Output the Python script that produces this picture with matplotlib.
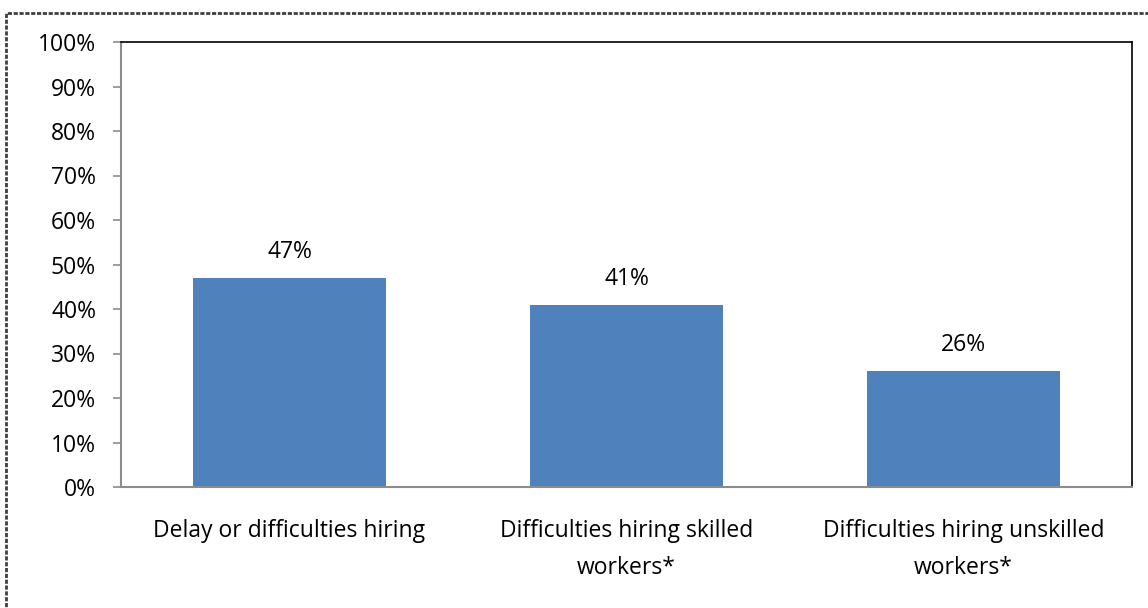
import matplotlib
matplotlib.use("Agg")
import matplotlib.pyplot as plt
from matplotlib.patches import Rectangle
from matplotlib.ticker import FuncFormatter

categories = ["Delay or difficulties hiring",
              "Difficulties hiring skilled\nworkers*",
              "Difficulties hiring unskilled\nworkers*"]
values = [47, 41, 26]
labels = ["47%", "41%", "26%"]
yticks = list(range(0, 101, 10))

plt.rcParams['font.family'] = ['Open Sans', 'DejaVu Sans']
FS = 16.5

fig = plt.figure(figsize=(11.48, 6.08), dpi=100)
ax = fig.add_axes([121/1148, 1 - 487/608, (1132-121)/1148, (487-42)/608])

x = range(len(categories))
ax.bar(x, values, width=0.573, color="#4F81BD", zorder=2)
for xi, v, lab in zip(x, values, labels):
    ax.annotate(lab, (xi, v), xytext=(0, 10), textcoords="offset points",
                ha="center", va="bottom", fontsize=FS, color="black")

ax.set_xlim(-0.5, 2.5)
ax.set_ylim(0, 100)
ax.set_yticks(yticks)
ax.yaxis.set_major_formatter(FuncFormatter(lambda v, p: f"{int(v)}%"))
ax.set_xticks(list(x))
ax.set_xticklabels(categories, fontsize=FS, linespacing=1.7)
ax.tick_params(axis="x", length=0, pad=23)
ax.tick_params(axis="y", length=6, width=1.2, color="#8c8c8c", labelsize=FS, pad=12)

for s in ["left", "bottom"]:
    ax.spines[s].set_color("#8c8c8c")
    ax.spines[s].set_linewidth(1.5)
for s in ["top", "right"]:
    ax.spines[s].set_color("black")
    ax.spines[s].set_linewidth(1.2)

fig.patches.append(Rectangle((6/1148, -0.05), 1.1, (608-13)/608 + 0.05,
                             transform=fig.transFigure, fill=False,
                             edgecolor="#404040", linewidth=2, linestyle=(0, (1.5, 0.6))))

fig.savefig("out.png", dpi=100, facecolor="white")
